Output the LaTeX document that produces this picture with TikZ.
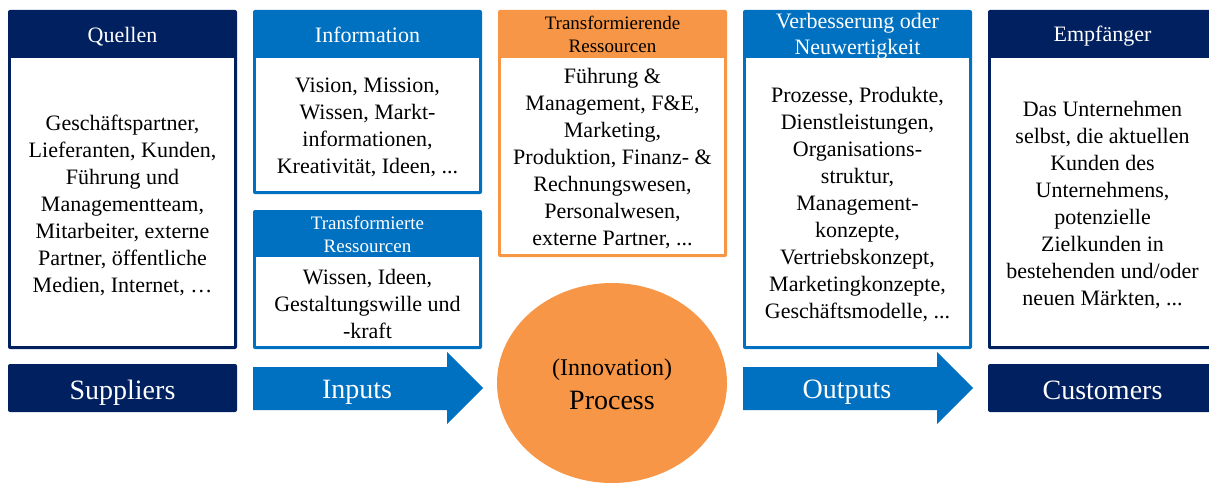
\documentclass[tikz,border=0pt]{standalone}
\usepackage{fontspec}
\setmainfont{Liberation Serif}
\newfontfamily\tnr{Liberation Serif}
\usetikzlibrary{shapes.geometric}
\definecolor{navy}{HTML}{002060}
\definecolor{mblue}{HTML}{0070C0}
\definecolor{orng}{HTML}{F79646}
\newcommand\mybox[5]{%
  \fill[#5, rounded corners=2pt] (#1,#2) rectangle (#1+229,#4);
  \fill[white] (#1+3,#3) rectangle (#1+226,#4-3);}
\begin{document}
\begin{tikzpicture}[x=1pt,y=-1pt,
  body/.style={align=center, text=black, font=\tnr\fontsize{22}{27}\selectfont, inner sep=0pt},
  head/.style={align=center, text=white, font=\tnr\fontsize{22}{26}\selectfont, inner sep=0pt},
  smallhead/.style={align=center, font=\tnr\fontsize{19}{23}\selectfont, inner sep=0pt},
  big/.style={anchor=base, text=white, font=\tnr\fontsize{28}{32}\selectfont, inner sep=0pt},
  mid/.style={anchor=base, text=black, font=\tnr\fontsize{24}{28}\selectfont, inner sep=0pt}]
\useasboundingbox (0,0) rectangle (1209,484);

% Quellen
\mybox{8}{10}{58}{349}{navy}
\node[head, anchor=base] (qh) at (122.5,43) {Quellen};
\node[body] (qb) at (122.5,205) {Geschäftspartner,\\Lieferanten, Kunden,\\Führung und\\Managementteam,\\Mitarbeiter, externe\\Partner, öffentliche\\Medien, Internet, …};
\fill[navy, rounded corners=2pt] (8,364) rectangle (237,412);
\node[big] (sup) at (122.5,399) {Suppliers};

% Information
\mybox{253}{10}{58}{194}{mblue}
\node[head, anchor=base] (ih) at (367.5,43) {Information};
\node[body] (ib) at (367.5,127) {Vision, Mission,\\Wissen, Markt-\\informationen,\\Kreativität, Ideen, ...};

% Transformierte Ressourcen
\mybox{253}{210}{257}{349}{mblue}
\node[smallhead, text=white] (th) at (367.5,234) {Transformierte\\Ressourcen};
\node[body] (tb) at (367.5,304) {Wissen, Ideen,\\Gestaltungswille und\\-kraft};

% Inputs arrow
\fill[mblue] (253,367) -- (447,367) -- (447,352) -- (483,388) -- (447,424) -- (447,410) -- (253,410) -- cycle;
\node[big] (inp) at (357,398) {Inputs};

% Transformierende Ressourcen
\mybox{498}{10}{58}{257}{orng}
\node[smallhead, text=black] (tfh) at (612.5,34) {Transformierende\\Ressourcen};
\node[body] (tfb) at (612.5,159) {Führung \&\\Management, F\&E,\\Marketing,\\Produktion, Finanz- \&\\Rechnungswesen,\\Personalwesen,\\externe Partner, ...};

% Process
\node[ellipse, fill=orng, minimum width=230pt, minimum height=200pt, inner sep=0pt] (proc) at (612,383) {};
\node[mid] (inno) at (612,375) {(Innovation)};
\node[big, text=black] (prc) at (612,409) {Process};

% Verbesserung
\fill[mblue, rounded corners=2pt] (743,10) rectangle (972,349);
\node[head] (vh) at (857.5,36) {Verbesserung oder\\Neuwertigkeit};
\fill[white] (746,58) rectangle (969,346);
\node[body] (vb) at (857.5,205) {Prozesse, Produkte,\\Dienstleistungen,\\Organisations-\\struktur,\\Management-\\konzepte,\\Vertriebskonzept,\\Marketingkonzepte,\\Geschäftsmodelle, ...};

% Outputs arrow
\fill[mblue] (743,367) -- (937,367) -- (937,352) -- (973,388) -- (937,424) -- (937,410) -- (743,410) -- cycle;
\node[big] (outp) at (847,398) {Outputs};

% Empfänger
\mybox{988}{10}{58}{349}{navy}
\node[head, anchor=base] (eh) at (1102.5,42) {Empfänger};
\node[body] (eb) at (1102.5,205) {Das Unternehmen\\selbst, die aktuellen\\Kunden des\\Unternehmens,\\potenzielle\\Zielkunden in\\bestehenden und/oder\\neuen Märkten, ...};
\fill[navy, rounded corners=2pt] (988,364) rectangle (1217,412);
\node[big] (cust) at (1102.5,399) {Customers};
\end{tikzpicture}
\end{document}
